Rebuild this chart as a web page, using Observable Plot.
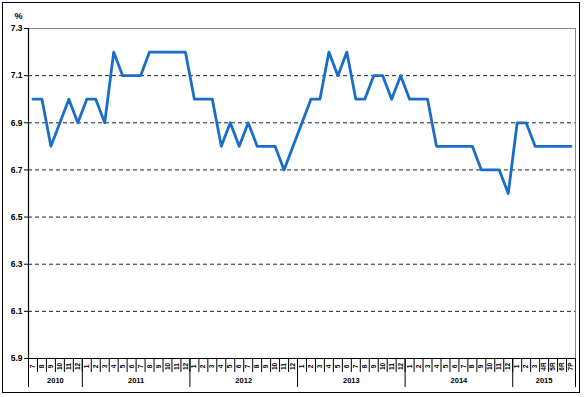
<!DOCTYPE html>
<html>
<head>
<meta charset="utf-8">
<script src="https://cdn.jsdelivr.net/npm/d3@7"></script>
<script src="https://cdn.jsdelivr.net/npm/@observablehq/plot@0.6"></script>
<style>
  body { margin: 0; background: #fff; }
  #wrap { position: relative; width: 584px; height: 397px; overflow: hidden; }
  #wrap svg { position: absolute; left: 0; top: 0; }
  #border { position: absolute; left: 2px; top: 2px; width: 576px; height: 389px; border: 1.5px solid #000; pointer-events: none; }
</style>
</head>
<body>
<div id="wrap"><div id="border"></div></div>
<script>
const months = [
  "7","8","9","10","11","12",
  "1","2","3","4","5","6","7","8","9","10","11","12",
  "1","2","3","4","5","6","7","8","9","10","11","12",
  "1","2","3","4","5","6","7","8","9","10","11","12",
  "1","2","3","4","5","6","7","8","9","10","11","12",
  "1","2","3","4R","5R","6R","7P"
];
const years = ["2010","2011","2012","2013","2014","2015"];
const monthsPerYear = [6, 12, 12, 12, 12, 7];
const rate = [
  7.0, 7.0, 6.8, 6.9, 7.0, 6.9,
  7.0, 7.0, 6.9, 7.2, 7.1, 7.1, 7.1, 7.2, 7.2, 7.2, 7.2, 7.2,
  7.0, 7.0, 7.0, 6.8, 6.9, 6.8, 6.9, 6.8, 6.8, 6.8, 6.7, 6.8,
  6.9, 7.0, 7.0, 7.2, 7.1, 7.2, 7.0, 7.0, 7.1, 7.1, 7.0, 7.1,
  7.0, 7.0, 7.0, 6.8, 6.8, 6.8, 6.8, 6.8, 6.7, 6.7, 6.7, 6.6,
  6.9, 6.9, 6.8, 6.8, 6.8, 6.8, 6.8
];
const yTicks = [5.9, 6.1, 6.3, 6.5, 6.7, 6.9, 7.1, 7.3];
const yUnit = "%";

const n = rate.length;
const data = rate.map((v, i) => ({i, v, m: months[i]}));
const starts = [];
let s = 0;
for (const c of monthsPerYear) { starts.push(s); s += c; }
const yearData = years.map((y, k) => ({y, c: starts[k] + (monthsPerYear[k] - 1) / 2}));
const yearBounds = starts.map(st => st - 0.5).concat([n - 0.5]);
const monthBounds = d3.range(-0.5, n, 1);
const gridTicks = yTicks.slice(1, -1);

const chart = Plot.plot({
  width: 584,
  height: 397,
  marginLeft: 28,
  marginRight: 9,
  marginTop: 28,
  marginBottom: 39,
  x: {domain: [-0.5, n - 0.5], axis: null, label: null},
  y: {domain: [yTicks[0], yTicks[yTicks.length - 1]], axis: null, label: null},
  style: {fontFamily: "'Liberation Sans', Arial, sans-serif", background: "transparent", color: "#000"},
  marks: [
    Plot.ruleY(gridTicks, {stroke: "#222", strokeDasharray: "4,3", strokeWidth: 1}),
    Plot.ruleY([yTicks[yTicks.length - 1]], {stroke: "#8a8a8a", strokeWidth: 1}),
    Plot.ruleX([n - 0.5], {stroke: "#8a8a8a", strokeWidth: 1}),
    Plot.axisY(yTicks, {anchor: "left", label: null, tickSize: 4, tickPadding: 2, tickFormat: d3.format(".1f"), fontSize: 8.5, fontWeight: "bold"}),
    Plot.ruleX([-0.5], {stroke: "#000", strokeWidth: 1.2}),
    Plot.ruleY([yTicks[0]], {stroke: "#000", strokeWidth: 1.2}),
    Plot.axisX(monthBounds, {anchor: "bottom", label: null, tickSize: 14, tickFormat: () => "", stroke: "#000"}),
    Plot.axisX(yearBounds, {anchor: "bottom", label: null, tickSize: 29, tickFormat: () => "", stroke: "#000"}),
    Plot.text(data, {x: "i", text: "m", frameAnchor: "bottom", dy: 8, rotate: -90, textAnchor: "middle", lineAnchor: "middle", fontSize: 6.5, fontWeight: "bold"}),
    Plot.text(yearData, {x: "c", text: "y", frameAnchor: "bottom", dy: 24, fontSize: 7.5, fontWeight: "bold"}),
    Plot.text([yUnit], {frameAnchor: "top-left", text: d => d, dx: -14, dy: -16, fontSize: 9, fontWeight: "bold"}),
    Plot.line(data, {x: "i", y: "v", stroke: "#1a6ec8", strokeWidth: 2.8, strokeLinejoin: "round"})
  ]
});
document.getElementById("wrap").prepend(chart);
</script>
</body>
</html>
